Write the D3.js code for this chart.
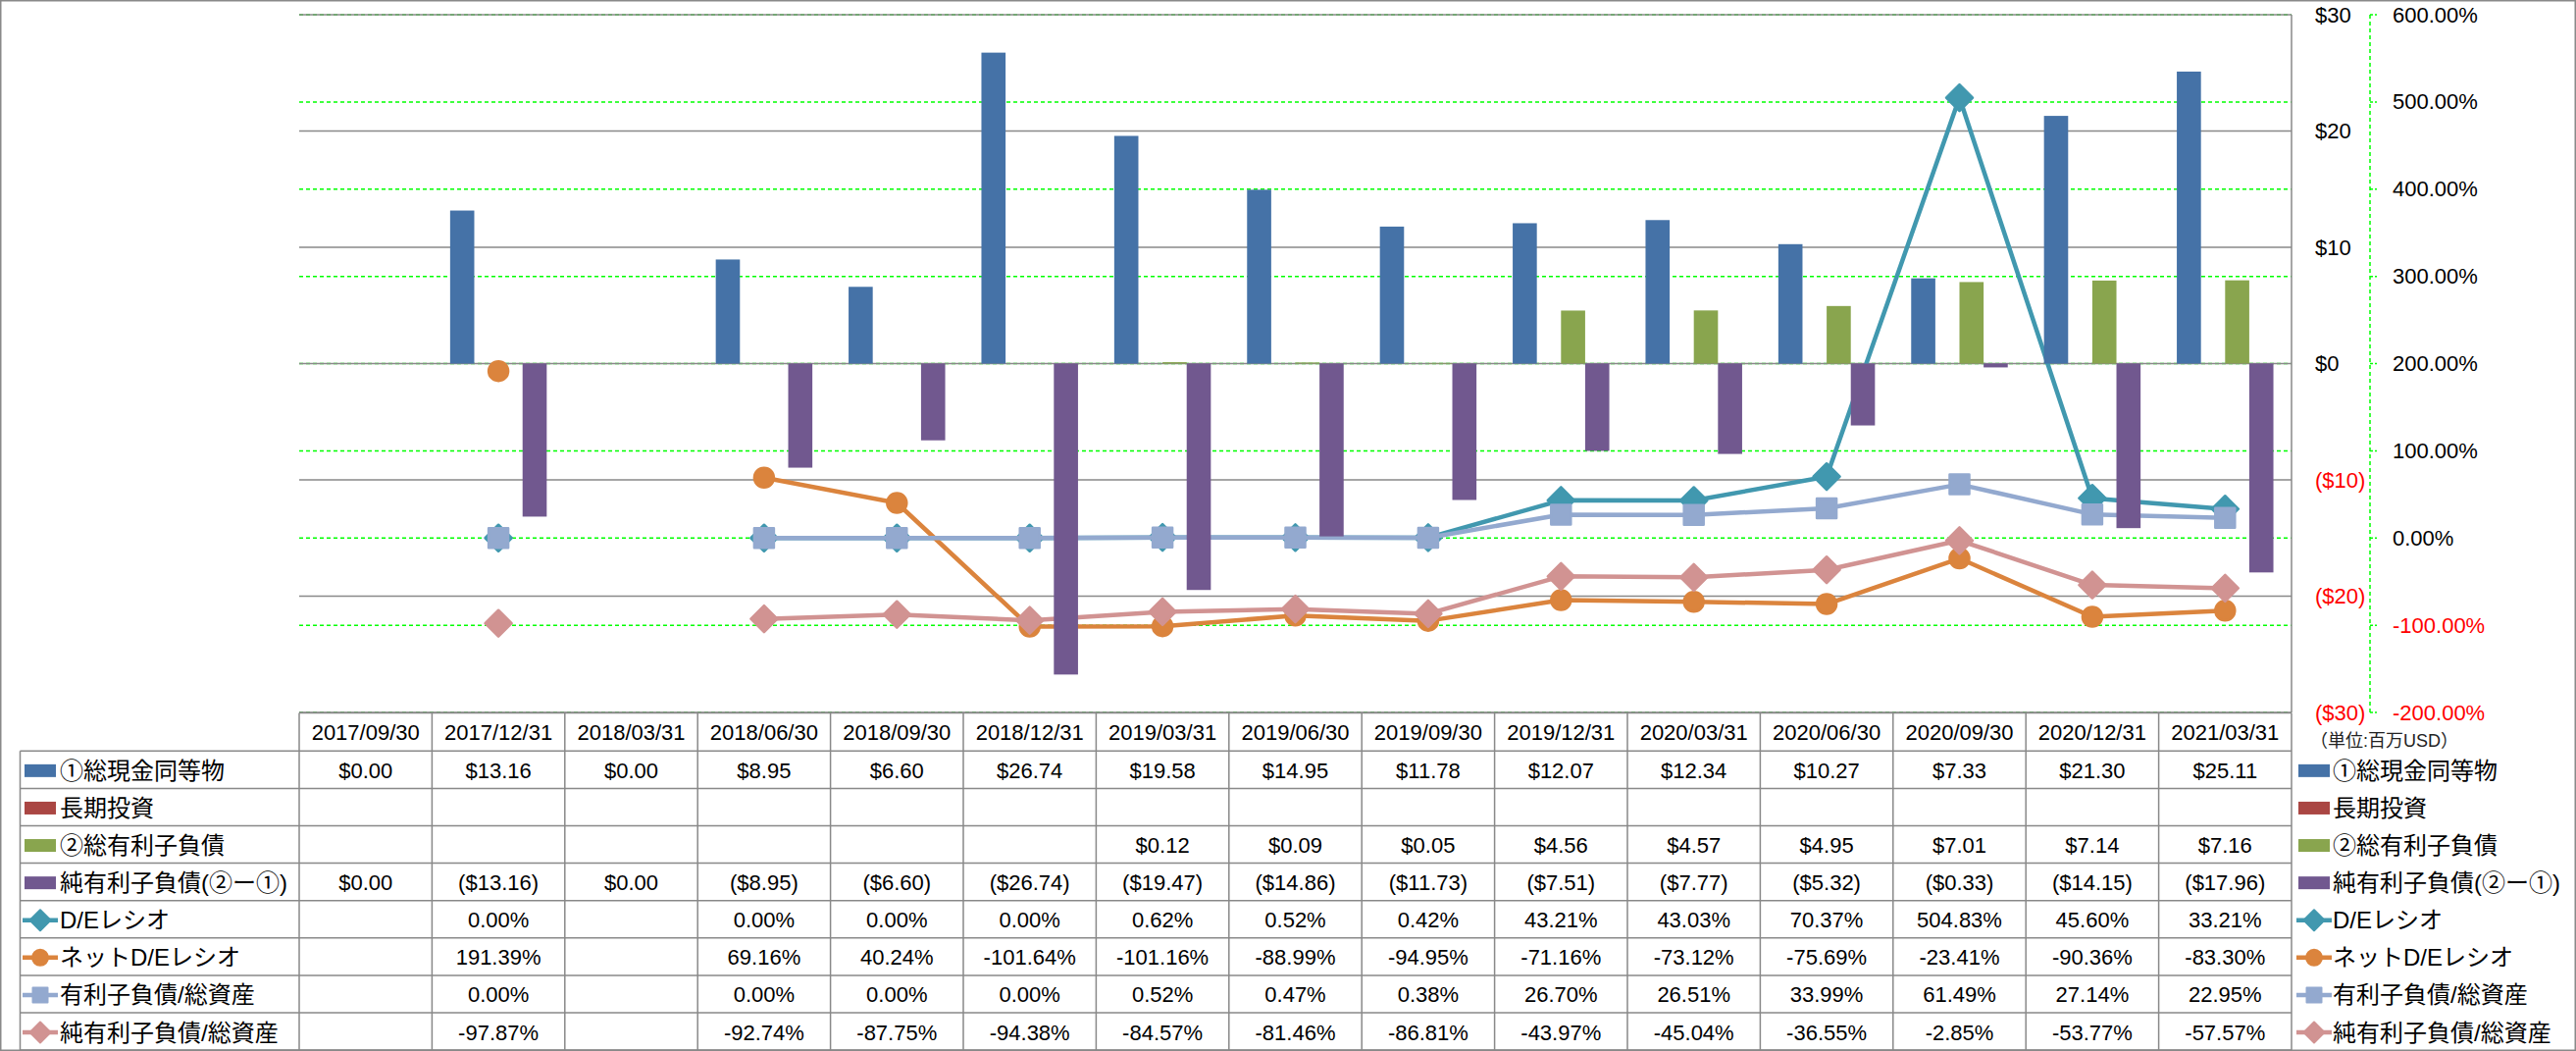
<!DOCTYPE html>
<html><head><meta charset="utf-8">
<script src="https://cdn.jsdelivr.net/npm/d3@7"></script>
<style>
html,body{margin:0;padding:0;background:#fff;}
svg{display:block;}
text{font-family:"Liberation Sans","Noto Sans CJK JP",sans-serif;fill:#000;}
</style></head><body>
<svg id="chart" width="2626" height="1071"></svg>
<script>
// ---------- data ----------
const categories = ["2017/09/30","2017/12/31","2018/03/31","2018/06/30","2018/09/30","2018/12/31","2019/03/31","2019/06/30","2019/09/30","2019/12/31","2020/03/31","2020/06/30","2020/09/30","2020/12/31","2021/03/31"];
const cashEquivalents = [0,13.16,0,8.95,6.60,26.74,19.58,14.95,11.78,12.07,12.34,10.27,7.33,21.30,25.11];
const longTermInvestments = [null,null,null,null,null,null,null,null,null,null,null,null,null,null,null];
const totalDebt = [null,null,null,null,null,null,0.12,0.09,0.05,4.56,4.57,4.95,7.01,7.14,7.16];
const netDebt = [0,-13.16,0,-8.95,-6.60,-26.74,-19.47,-14.86,-11.73,-7.51,-7.77,-5.32,-0.33,-14.15,-17.96];
const deRatio = [null,0.00,null,0.00,0.00,0.00,0.62,0.52,0.42,43.21,43.03,70.37,504.83,45.60,33.21];
const netDeRatio = [null,191.39,null,69.16,40.24,-101.64,-101.16,-88.99,-94.95,-71.16,-73.12,-75.69,-23.41,-90.36,-83.30];
const debtToAssets = [null,0.00,null,0.00,0.00,0.00,0.52,0.47,0.38,26.70,26.51,33.99,61.49,27.14,22.95];
const netDebtToAssets = [null,-97.87,null,-92.74,-87.75,-94.38,-84.57,-81.46,-86.81,-43.97,-45.04,-36.55,-2.85,-53.77,-57.57];
const dollarTicks = [30,20,10,0,-10,-20,-30];
const pctTicks = [600,500,400,300,200,100,0,-100,-200];
const unitLabel = "（単位:百万USD）";

const barSeries = [
  {name:"①総現金同等物", values:cashEquivalents, color:"#4572A7"},
  {name:"長期投資", values:longTermInvestments, color:"#AA4643"},
  {name:"②総有利子負債", values:totalDebt, color:"#89A54E"},
  {name:"純有利子負債(②ー①)", values:netDebt, color:"#71588F"}
];
const lineSeries = [
  {name:"D/Eレシオ", values:deRatio, color:"#4198AF", marker:"diamond"},
  {name:"ネットD/Eレシオ", values:netDeRatio, color:"#DB843D", marker:"circle"},
  {name:"有利子負債/総資産", values:debtToAssets, color:"#93A9CF", marker:"square"},
  {name:"純有利子負債/総資産", values:netDebtToAssets, color:"#D19392", marker:"diamond"}
];

// ---------- layout ----------
const svg = d3.select("#chart");
const plotL = 305, plotR = 2336, plotT = 15, plotB = 726;
const gridColor = "#898989";

const x = d3.scaleBand().domain(categories).range([plotL, plotR]).padding(0);
const xSub = d3.scaleBand().domain(barSeries.map(s=>s.name)).range([0, x.bandwidth()]).paddingInner(0).paddingOuter(0.75);
const yD = d3.scaleLinear().domain([-30,30]).range([plotB, plotT]);
const yP = d3.scaleLinear().domain([-200,600]).range([plotB, plotT]);

const fmtDollar = v => v==null ? "" : (v<0 ? "($"+Math.abs(v).toFixed(2)+")" : "$"+v.toFixed(2));
const fmtPct = v => v==null ? "" : v.toFixed(2)+"%";
const fmtDTick = v => v<0 ? "($"+Math.abs(v)+")" : "$"+v;

// outer border
svg.append("rect").attr("x",0.75).attr("y",0.75).attr("width",2624.5).attr("height",1069.5)
  .attr("fill","none").attr("stroke",gridColor).attr("stroke-width",1.5);

// green dashed percentage gridlines
svg.append("g").selectAll("line").data(pctTicks).join("line")
  .attr("x1",plotL).attr("x2",plotR).attr("y1",d=>yP(d)).attr("y2",d=>yP(d))
  .attr("stroke","#00FF00").attr("stroke-width",1.5).attr("stroke-dasharray","4,3");

// gray dollar gridlines
svg.append("g").selectAll("line").data(dollarTicks).join("line")
  .attr("x1",plotL).attr("x2",plotR).attr("y1",d=>yD(d)).attr("y2",d=>yD(d))
  .attr("stroke",gridColor).attr("stroke-width",1.5);

// right edge axis line of plot
svg.append("line").attr("x1",plotR).attr("x2",plotR).attr("y1",plotT).attr("y2",plotB)
  .attr("stroke",gridColor).attr("stroke-width",1.5);

// markers
function markerPath(type, r){
  if(type==="diamond") return `M0,${-r}L${r},0L0,${r}L${-r},0Z`;
  if(type==="square") return `M${-r},${-r}H${r}V${r}H${-r}Z`;
  return d3.symbol(d3.symbolCircle, Math.PI*r*r)();
}
const markerR = {diamond:13.5, square:10, circle:10};

// lines
const cx = i => x(categories[i]) + x.bandwidth()/2;
const lineGen = d3.line().defined(d=>d.v!=null).x(d=>cx(d.i)).y(d=>yP(d.v));
const gLines = svg.append("g");
lineSeries.forEach(s=>{
  const pts = s.values.map((v,i)=>({v,i}));
  const g = gLines.append("g");
  g.append("path").attr("d",lineGen(pts)).attr("fill","none").attr("stroke",s.color)
    .attr("stroke-width",4.5).attr("stroke-linejoin","round");
  g.selectAll("path.m").data(pts.filter(d=>d.v!=null)).join("path").attr("class","m")
    .attr("transform",d=>`translate(${cx(d.i)},${yP(d.v)})`)
    .attr("d",markerPath(s.marker, markerR[s.marker]))
    .attr("fill",s.color).attr("stroke",s.color).attr("stroke-width",2.5).attr("stroke-linejoin","round");
});

// bars (drawn over lines)
const gBars = svg.append("g");
barSeries.forEach(s=>{
  gBars.append("g").selectAll("rect").data(s.values.map((v,i)=>({v,i})).filter(d=>d.v!=null && d.v!==0)).join("rect")
    .attr("x",d=>x(categories[d.i])+xSub(s.name)).attr("width",xSub.bandwidth())
    .attr("y",d=>Math.min(yD(d.v),yD(0))).attr("height",d=>Math.abs(yD(d.v)-yD(0)))
    .attr("fill",s.color);
});

// dollar axis labels
svg.append("g").selectAll("text").data(dollarTicks).join("text")
  .attr("x",2360).attr("y",d=>yD(d)).attr("dominant-baseline","central")
  .attr("font-size",22).style("fill",d=>d<0?"#FF0000":"#000").text(fmtDTick);

// percent axis
const axX = 2416;
svg.append("line").attr("x1",axX).attr("x2",axX).attr("y1",plotT).attr("y2",plotB)
  .attr("stroke","#00FF00").attr("stroke-width",1.5).attr("stroke-dasharray","4,3");
svg.append("g").selectAll("line").data(pctTicks).join("line")
  .attr("x1",axX).attr("x2",axX+7).attr("y1",d=>yP(d)).attr("y2",d=>yP(d))
  .attr("stroke","#00FF00").attr("stroke-width",1.5).attr("stroke-dasharray","3,2");
svg.append("g").selectAll("text").data(pctTicks).join("text")
  .attr("x",2439).attr("y",d=>yP(d)).attr("dominant-baseline","central")
  .attr("font-size",22).style("fill",d=>d<0?"#FF0000":"#000").text(fmtPct);

// unit label
svg.append("text").attr("x",2355).attr("y",755).attr("dominant-baseline","central")
  .attr("font-size",18).style("fill","#222").text(unitLabel);

// ---------- data table ----------
const tblL = 20.5, headT = 726.5, headB = 765.3, rowH = 38.1;
const rows = [
  ...barSeries.map(s=>({...s, type:"bar", fmt:fmtDollar})),
  ...lineSeries.map(s=>({...s, type:"line", fmt:fmtPct}))
];
const rowY = i => headB + i*rowH;
const tblB = rowY(rows.length);
const gT = svg.append("g");
// horizontal lines
gT.append("line").attr("x1",plotL).attr("x2",plotR).attr("y1",headT).attr("y2",headT).attr("stroke",gridColor).attr("stroke-width",1.5);
gT.selectAll("line.h").data(d3.range(rows.length+1)).join("line").attr("class","h")
  .attr("x1",tblL).attr("x2",plotR).attr("y1",i=>rowY(i)).attr("y2",i=>rowY(i))
  .attr("stroke",gridColor).attr("stroke-width",1.5);
// vertical lines
gT.selectAll("line.v").data(d3.range(categories.length+1)).join("line").attr("class","v")
  .attr("x1",i=>plotL+i*x.step()).attr("x2",i=>plotL+i*x.step()).attr("y1",headT).attr("y2",tblB)
  .attr("stroke",gridColor).attr("stroke-width",1.5);
gT.append("line").attr("x1",tblL).attr("x2",tblL).attr("y1",headB).attr("y2",tblB).attr("stroke",gridColor).attr("stroke-width",1.5);

// header
gT.selectAll("text.hd").data(categories).join("text").attr("class","hd")
  .attr("x",d=>x(d)+x.bandwidth()/2).attr("y",(headT+headB)/2+1).attr("text-anchor","middle")
  .attr("dominant-baseline","central").attr("font-size",22).text(d=>d);

// cells
rows.forEach((r,ri)=>{
  const yc = rowY(ri)+rowH/2+1;
  gT.append("g").selectAll("text").data(r.values.map((v,i)=>({v,i}))).join("text")
    .attr("x",d=>cx(d.i)).attr("y",yc).attr("text-anchor","middle").attr("dominant-baseline","central")
    .attr("font-size",22).text(d=>r.fmt(d.v));
});

// legend keys (left inside table, and right)
function drawKey(g, r, x0, yc){
  if(r.type==="bar"){
    g.append("rect").attr("x",x0+2).attr("y",yc-6.5).attr("width",32).attr("height",13).attr("fill",r.color);
  } else {
    g.append("line").attr("x1",x0).attr("x2",x0+36).attr("y1",yc).attr("y2",yc).attr("stroke",r.color).attr("stroke-width",4.5);
    const rr = r.marker==="diamond"?10.5:(r.marker==="square"?7.5:8);
    g.append("path").attr("transform",`translate(${x0+18},${yc})`).attr("d",markerPath(r.marker,rr))
      .attr("fill",r.color).attr("stroke",r.color).attr("stroke-width",2).attr("stroke-linejoin","round");
  }
}
const gLeg = svg.append("g");
rows.forEach((r,ri)=>{
  const yc = rowY(ri)+rowH/2+1;
  drawKey(gLeg, r, 23, yc);
  gLeg.append("text").attr("x",61).attr("y",yc).attr("dominant-baseline","central").attr("font-size",24).text(r.name);
  drawKey(gLeg, r, 2341, yc);
  gLeg.append("text").attr("x",2378).attr("y",yc).attr("dominant-baseline","central").attr("font-size",24).text(r.name);
});
</script>
</body></html>
